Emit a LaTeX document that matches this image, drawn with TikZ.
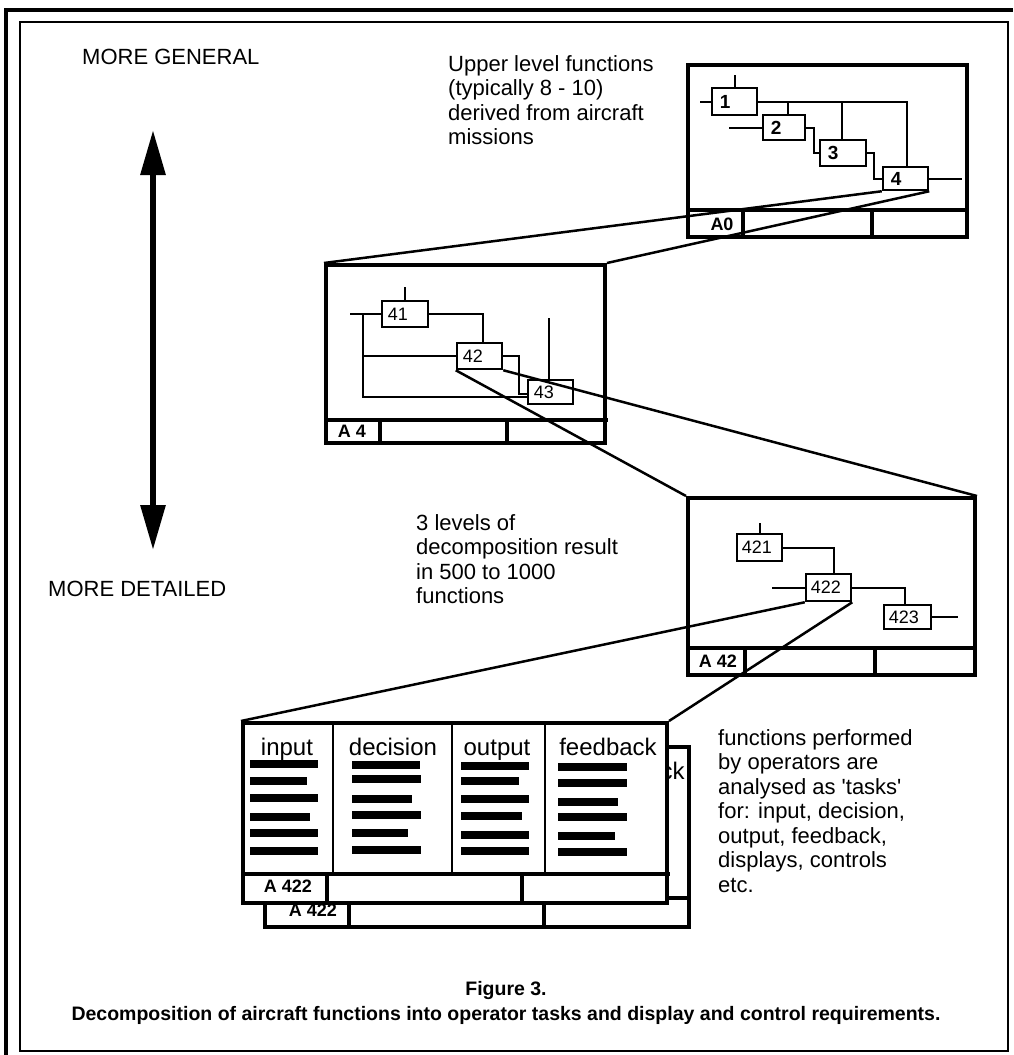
\documentclass[tikz,border=0pt]{standalone}
\usepackage{fontspec}
\setmainfont{Liberation Sans}
\usetikzlibrary{fit,arrows.meta}
\begin{document}
\begin{tikzpicture}[x=1pt,y=-1pt,
  frame/.style={draw, line width=4pt, inner sep=0pt},
  sbox/.style={draw, line width=2.5pt, inner sep=0pt},
  conn/.style={line width=2pt},
  proj/.style={line width=2.5pt},
  strip/.style={line width=4pt},
  numA/.style={font=\fontsize{19}{19}\selectfont\bfseries, inner sep=0pt, anchor=west},
  numB/.style={font=\fontsize{18}{18}\selectfont, inner sep=0pt, anchor=west},
  tag/.style={font=\fontsize{18}{18}\selectfont\bfseries, inner sep=0pt},
  body/.style={font=\fontsize{22}{24.5}\selectfont, align=left, anchor=north west, inner sep=0pt},
  head/.style={font=\fontsize{24}{24}\selectfont, anchor=base, inner sep=0pt},
  big/.style={font=\fontsize{22}{22}\selectfont, anchor=west, inner sep=0pt},
  capt/.style={font=\fontsize{19.5}{19.5}\selectfont\bfseries, inner sep=0pt}
]
\useasboundingbox (0,0) rectangle (1013,1055);
\fill[white] (0,0) rectangle (1013,1055);

% page frames
\draw[line width=4pt] (6,1055) -- (6,10) -- (1013,10);
\draw[line width=2.5pt] (20,22) rectangle (1008,1051);

% left texts and arrow
\node[big] (gen) at (82,57) {MORE GENERAL};
\node[big] (det) at (48,589) {MORE DETAILED};
\coordinate (atop) at (153,130);
\coordinate (abot) at (153,550);
\draw[line width=6pt, {Triangle[length=45pt,width=24pt]}-{Triangle[length=45pt,width=24pt]}] (atop) -- (abot);

% texts
\node[body] (t1) at (448,55) {Upper level functions\\(typically 8 - 10)\\derived from aircraft\\missions};
\node[body] (t2) at (416,514) {3 levels of\\decomposition result\\in 500 to 1000\\functions};
\node[body] (t3) at (718,729) {functions performed\\by operators are\\analysed as \textquotesingle tasks\textquotesingle\\for: input, decision,\\output, feedback,\\displays, controls\\etc.};

% ---------- A0 ----------
\node[frame, fit={(688,65)(967,237)}] (A0) {};
\draw[strip] (688,210) -- (967,210);
\draw[strip] (743,210) -- (743,237);
\draw[strip] (872,210) -- (872,237);
\node[tag] (A0t) at (722,224) {A0};
\node[sbox, fit={(712,88)(757,115)}] (b1) {};
\node[sbox, fit={(763,115)(805,140)}] (b2) {};
\node[sbox, fit={(820,140)(866,166)}] (b3) {};
\node[sbox, fit={(883,167)(928,190)}] (b4) {};
\node[numA] (b1t) at ([xshift=9pt]b1.west) {1};
\node[numA] (b2t) at ([xshift=9pt]b2.west) {2};
\node[numA] (b3t) at ([xshift=9pt]b3.west) {3};
\node[numA] (b4t) at ([xshift=9pt]b4.west) {4};
\coordinate (k1) at (734.5,75);
\draw[conn] (k1) -- (b1.north);
\coordinate (i1) at (700,101.5);
\draw[conn] (i1) -- (b1.west);
\coordinate (c14) at (907,101.5);
\draw[conn] (b1.east) -- (c14) -- (c14 |- b4.north);
\coordinate (k2) at (788,101.5);
\draw[conn] (k2) -- (k2 |- b2.north);
\coordinate (k3) at (842,101.5);
\draw[conn] (k3) -- (k3 |- b3.north);
\coordinate (i2) at (729,127.5);
\draw[conn] (i2) -- (b2.west);
\draw[conn] (b2.east) -- ++(8,0) |- (b3.west);
\draw[conn] (b3.east) -- ++(7,0) |- (b4.west);
\coordinate (o4) at (962,178.5);
\draw[conn] (b4.east) -- (o4);

% ---------- A4 ----------
\node[frame, fit={(326,265)(605,443)}] (A4) {};
\draw[strip] (326,420) -- (608,420);
\draw[strip] (380,420) -- (380,443);
\draw[strip] (507,420) -- (507,443);
\node[tag] (A4t) at (352,431) {A 4};
\node[sbox, fit={(382,301)(428,327)}] (b41) {};
\node[sbox, fit={(457,343)(502,369)}] (b42) {};
\node[sbox, fit={(528,380)(573,404)}] (b43) {};
\node[numB] (b41t) at ([xshift=7pt]b41.west) {41};
\node[numB] (b42t) at ([xshift=7pt]b42.west) {42};
\node[numB] (b43t) at ([xshift=7pt]b43.west) {43};
\coordinate (k41) at (405,287);
\draw[conn] (k41) -- (b41.north);
\coordinate (i41) at (350,314);
\draw[conn] (i41) -- (b41.west);
\coordinate (v1) at (363,314);
\coordinate (v2) at (363,397);
\draw[conn] (v1) -- (v2) -- (v2 -| b43.west);
\coordinate (v3) at (363,356);
\draw[conn] (v3) -- (b42.west);
\coordinate (c412) at (483,314);
\draw[conn] (b41.east) -- (c412) -- (c412 |- b42.north);
\draw[conn] (b42.east) -- ++(16,0) |- ([yshift=-2pt]b43.west);
\coordinate (k43) at (549,318);
\draw[conn] (k43) -- (k43 |- b43.north);

% ---------- A42 ----------
\node[frame, fit={(688,498)(975,675)}] (A42) {};
\draw[strip] (688,648) -- (977,648);
\draw[strip] (745,648) -- (745,675);
\draw[strip] (875,648) -- (875,675);
\node[tag] (A42t) at (718,661) {A 42};
\node[sbox, fit={(737,534)(782,561)}] (b421) {};
\node[sbox, fit={(806,574)(851,601)}] (b422) {};
\node[sbox, fit={(884,605)(931,629)}] (b423) {};
\node[numB] (b421t) at ([xshift=6pt]b421.west) {421};
\node[numB] (b422t) at ([xshift=6pt]b422.west) {422};
\node[numB] (b423t) at ([xshift=6pt]b423.west) {423};
\coordinate (k421) at (759.5,523);
\draw[conn] (k421) -- (b421.north);
\coordinate (c4212) at (834,547.5);
\draw[conn] (b421.east) -- (c4212) -- (c4212 |- b422.north);
\coordinate (i422) at (772,587.5);
\draw[conn] (i422) -- (b422.west);
\coordinate (c4223) at (905,587.5);
\draw[conn] (b422.east) -- (c4223) -- (c4223 |- b423.north);
\coordinate (o423) at (958,617);
\draw[conn] (b423.east) -- (o423);

% ---------- A422 back ----------
\node[frame, fit={(265,747)(689,927)}] (B) {};
\draw[strip] (265,898) -- (689,898);
\draw[strip] (349,898) -- (349,927);
\draw[strip] (544,898) -- (544,927);
\node[tag] (Bt) at (313,910) {A 422};
\node[head] (Bh) at (636,779) {feedback};

% ---------- A422 front ----------
\node[frame, fill=white, fit={(243,723)(667,903)}] (F) {};
\draw[strip] (243,874) -- (670,874);
\draw[strip] (327,874) -- (327,903);
\draw[strip] (522,874) -- (522,903);
\draw[line width=2pt] (333,723) -- (333,874);
\draw[line width=2pt] (452,723) -- (452,874);
\draw[line width=2pt] (545,723) -- (545,874);
\node[tag] (Ft) at (288,886) {A 422};
\node[head] (h1) at (287,755) {input};
\node[head] (h2) at (393,755) {decision};
\node[head] (h3) at (497,755) {output};
\node[head] (h4) at (608,755) {feedback};
% bars
\foreach \y/\xe in {764/318,781/307,798/318,817/310,833/318,851/318}
  \fill (250,\y-4) rectangle (\xe,\y+4);
\foreach \y/\xe in {765/420,779/421,799/412,815/421,833/408,850/421}
  \fill (352,\y-4) rectangle (\xe,\y+4);
\foreach \y/\xe in {766/529,781/519,799/529,816/522,835/529,851/529}
  \fill (461,\y-4) rectangle (\xe,\y+4);
\foreach \y/\xe in {767/627,783/627,802/618,817/627,836/615,852/627}
  \fill (558,\y-4) rectangle (\xe,\y+4);

% projection lines
\draw[proj] (b4.south west) -- (A4.north west);
\draw[proj] (b4.south east) -- (A4.north east);
\draw[proj] (b42.south west) -- (A42.north west);
\draw[proj] (b42.south east) -- (A42.north east);
\draw[proj] (b422.south west) -- (F.north west);
\draw[proj] (b422.south east) -- (F.north east);

% caption
\node[capt] (c1) at (506,990) {Figure 3.};
\node[capt] (c2) at (506,1015) {Decomposition of aircraft functions into operator tasks and display and control requirements.};
\end{tikzpicture}
\end{document}
